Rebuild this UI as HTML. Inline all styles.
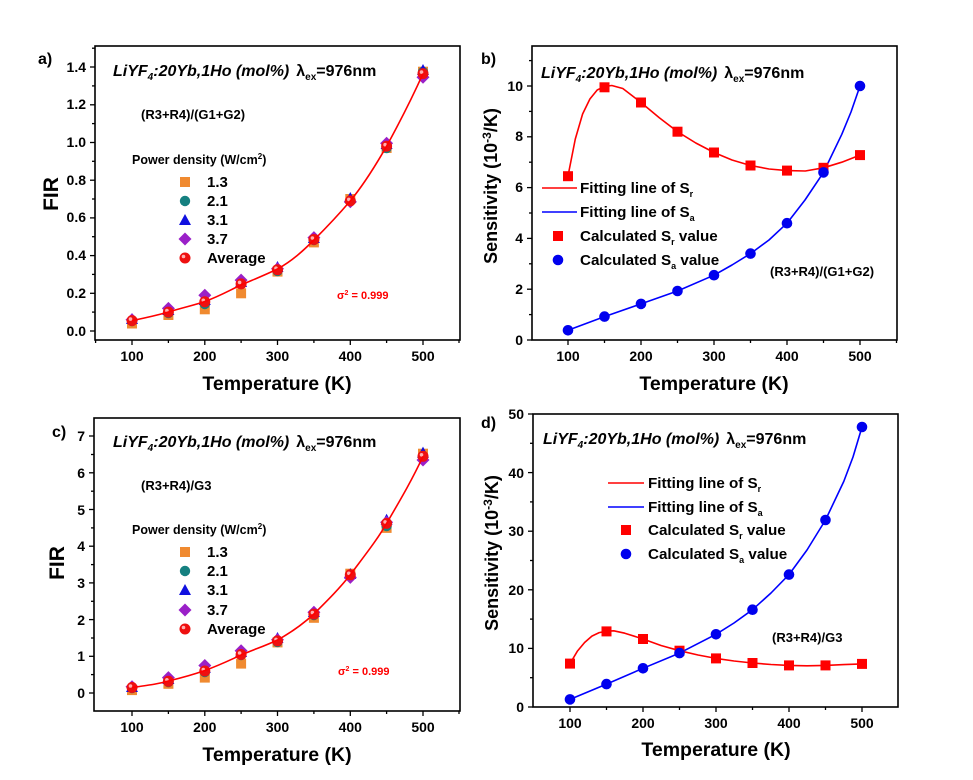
<!DOCTYPE html>
<html><head><meta charset="utf-8"><style>body{margin:0;background:#fff}svg{display:block}text{font-family:"Liberation Sans",sans-serif;font-weight:bold}</style></head><body>
<svg width="973" height="780" viewBox="0 0 973 780" xmlns="http://www.w3.org/2000/svg">
<defs>
<rect id="sq" x="-5" y="-5" width="10" height="10" fill="#f08a30"/>
<circle id="ci" r="5.2" fill="#158080"/>
<path id="tr" d="M0,-6 L6,5 L-6,5Z" fill="#1010e0"/>
<path id="di" d="M0,-6.5 L6.5,0 L0,6.5 L-6.5,0Z" fill="#9a20c8"/>
<g id="av"><circle r="5.5" fill="#ee1010"/><circle cx="-1.5" cy="-1.5" r="1.8" fill="#ffb0b0"/></g>
<rect id="rs" x="-5" y="-5" width="10" height="10" fill="#f00"/>
<circle id="bc" r="5.3" fill="#0000ee"/>
</defs>

<!-- ===== Panel a ===== -->
<g>
<rect x="95" y="46" width="365" height="294" fill="none" stroke="#000" stroke-width="1.6"/>
<g stroke="#000" stroke-width="1.3">
<line x1="90" y1="331" x2="95" y2="331"/><line x1="90" y1="293.3" x2="95" y2="293.3"/><line x1="90" y1="255.6" x2="95" y2="255.6"/><line x1="90" y1="217.9" x2="95" y2="217.9"/><line x1="90" y1="180.2" x2="95" y2="180.2"/><line x1="90" y1="142.5" x2="95" y2="142.5"/><line x1="90" y1="104.8" x2="95" y2="104.8"/><line x1="90" y1="67" x2="95" y2="67"/>
<line x1="92" y1="312.1" x2="95" y2="312.1"/><line x1="92" y1="274.4" x2="95" y2="274.4"/><line x1="92" y1="236.7" x2="95" y2="236.7"/><line x1="92" y1="199" x2="95" y2="199"/><line x1="92" y1="161.3" x2="95" y2="161.3"/><line x1="92" y1="123.6" x2="95" y2="123.6"/><line x1="92" y1="85.9" x2="95" y2="85.9"/><line x1="92" y1="48.2" x2="95" y2="48.2"/>
<line x1="132" y1="340" x2="132" y2="345"/><line x1="204.8" y1="340" x2="204.8" y2="345"/><line x1="277.5" y1="340" x2="277.5" y2="345"/><line x1="350.3" y1="340" x2="350.3" y2="345"/><line x1="423" y1="340" x2="423" y2="345"/>
<line x1="168.4" y1="340" x2="168.4" y2="343"/><line x1="241.1" y1="340" x2="241.1" y2="343"/><line x1="313.9" y1="340" x2="313.9" y2="343"/><line x1="386.6" y1="340" x2="386.6" y2="343"/><line x1="459" y1="340" x2="459" y2="343"/><line x1="95.6" y1="340" x2="95.6" y2="343"/>
</g>
<g font-size="14" text-anchor="end">
<text x="86" y="336">0.0</text><text x="86" y="298">0.2</text><text x="86" y="260">0.4</text><text x="86" y="222">0.6</text><text x="86" y="185">0.8</text><text x="86" y="147">1.0</text><text x="86" y="109">1.2</text><text x="86" y="72">1.4</text>
</g>
<g font-size="14" text-anchor="middle">
<text x="132" y="361">100</text><text x="204.8" y="361">200</text><text x="277.5" y="361">300</text><text x="350.3" y="361">400</text><text x="423" y="361">500</text>
</g>
<text x="277" y="390" font-size="19.5" text-anchor="middle">Temperature (K)</text>
<text transform="translate(58,194) rotate(-90)" font-size="21" text-anchor="middle">FIR</text>
<text x="38" y="64" font-size="16">a)</text>
<text x="113" y="76" font-size="16" font-style="italic">LiYF<tspan font-size="10" dy="4">4</tspan><tspan dy="-4">:20Yb,1Ho (mol%)</tspan><tspan font-style="normal" dx="7">λ</tspan><tspan font-style="normal" font-size="10" dy="4">ex</tspan><tspan font-style="normal" dy="-4">=976nm</tspan></text>
<text x="141" y="119" font-size="13">(R3+R4)/(G1+G2)</text>
<text x="132" y="164" font-size="12.5">Power density (W/cm<tspan font-size="8" dy="-5">2</tspan><tspan dy="5">)</tspan></text>
<use href="#sq" x="185" y="182"/><use href="#ci" x="185" y="201"/><use href="#tr" x="185" y="220"/><use href="#di" x="185" y="239"/><use href="#av" x="185" y="258"/>
<g font-size="15"><text x="207" y="187">1.3</text><text x="207" y="206">2.1</text><text x="207" y="225">3.1</text><text x="207" y="244">3.7</text><text x="207" y="263">Average</text></g>
<text x="337" y="299" font-size="11" fill="#f00">σ<tspan font-size="7" dy="-4">2</tspan><tspan dy="4"> = 0.999</tspan></text>
<g>
<use href="#sq" x="132" y="323.5"/><use href="#sq" x="168.4" y="315"/><use href="#sq" x="204.8" y="309.3"/><use href="#sq" x="241.1" y="293.3"/><use href="#sq" x="277.5" y="271.6"/><use href="#sq" x="313.9" y="242.4"/><use href="#sq" x="350.3" y="199"/><use href="#sq" x="386.6" y="148"/><use href="#sq" x="423" y="71.7"/>
<use href="#ci" x="132" y="321"/><use href="#ci" x="168.4" y="313"/><use href="#ci" x="204.8" y="304"/><use href="#ci" x="241.1" y="284"/><use href="#ci" x="277.5" y="271"/><use href="#ci" x="313.9" y="240"/><use href="#ci" x="350.3" y="201"/><use href="#ci" x="386.6" y="148"/><use href="#ci" x="423" y="72"/>
<use href="#tr" x="132" y="319"/><use href="#tr" x="168.4" y="310"/><use href="#tr" x="204.8" y="300"/><use href="#tr" x="241.1" y="282"/><use href="#tr" x="277.5" y="267"/><use href="#tr" x="313.9" y="238"/><use href="#tr" x="350.3" y="198"/><use href="#tr" x="386.6" y="144"/><use href="#tr" x="423" y="70"/>
<use href="#di" x="132" y="319.7"/><use href="#di" x="168.4" y="308.4"/><use href="#di" x="204.8" y="295.2"/><use href="#di" x="241.1" y="280.1"/><use href="#di" x="277.5" y="268.8"/><use href="#di" x="313.9" y="237.6"/><use href="#di" x="350.3" y="201.8"/><use href="#di" x="386.6" y="143.3"/><use href="#di" x="423" y="77.3"/>
<use href="#av" x="132" y="320.6"/><use href="#av" x="168.4" y="312.1"/><use href="#av" x="204.8" y="301.8"/><use href="#av" x="241.1" y="283.9"/><use href="#av" x="277.5" y="269.7"/><use href="#av" x="313.9" y="239.5"/><use href="#av" x="350.3" y="200.9"/><use href="#av" x="386.6" y="146.2"/><use href="#av" x="423" y="73.6"/>
</g>
<path d="M132,320.6 C150,317 158,315 168.4,312 C185,307 195,305 204.8,301.5 C220,296 230,290 241.1,285 C255,279 265,275 277.5,269 C292,261 303,251 313.9,240 C328,226 340,213 350.3,200.9 C365,183 377,163 386.6,146.2 C402,118 413,96 423,73.6" fill="none" stroke="#f00" stroke-width="1.6"/>
</g>

<!-- ===== Panel b ===== -->
<g>
<rect x="532" y="46" width="365" height="294" fill="none" stroke="#000" stroke-width="1.6"/>
<g stroke="#000" stroke-width="1.3">
<line x1="527" y1="340" x2="532" y2="340"/><line x1="527" y1="289.2" x2="532" y2="289.2"/><line x1="527" y1="238.4" x2="532" y2="238.4"/><line x1="527" y1="187.6" x2="532" y2="187.6"/><line x1="527" y1="136.8" x2="532" y2="136.8"/><line x1="527" y1="86" x2="532" y2="86"/>
<line x1="529" y1="314.6" x2="532" y2="314.6"/><line x1="529" y1="263.8" x2="532" y2="263.8"/><line x1="529" y1="213" x2="532" y2="213"/><line x1="529" y1="162.2" x2="532" y2="162.2"/><line x1="529" y1="111.4" x2="532" y2="111.4"/><line x1="529" y1="60.6" x2="532" y2="60.6"/>
<line x1="568" y1="340" x2="568" y2="345"/><line x1="641" y1="340" x2="641" y2="345"/><line x1="714" y1="340" x2="714" y2="345"/><line x1="787" y1="340" x2="787" y2="345"/><line x1="860" y1="340" x2="860" y2="345"/>
<line x1="604.5" y1="340" x2="604.5" y2="343"/><line x1="677.5" y1="340" x2="677.5" y2="343"/><line x1="750.5" y1="340" x2="750.5" y2="343"/><line x1="823.5" y1="340" x2="823.5" y2="343"/><line x1="896.5" y1="340" x2="896.5" y2="343"/>
</g>
<g font-size="14" text-anchor="end">
<text x="523" y="345">0</text><text x="523" y="294">2</text><text x="523" y="243">4</text><text x="523" y="192">6</text><text x="523" y="141">8</text><text x="523" y="91">10</text>
</g>
<g font-size="14" text-anchor="middle">
<text x="568" y="361">100</text><text x="641" y="361">200</text><text x="714" y="361">300</text><text x="787" y="361">400</text><text x="860" y="361">500</text>
</g>
<text x="714" y="390" font-size="19.5" text-anchor="middle">Temperature (K)</text>
<text transform="translate(497,186) rotate(-90)" font-size="18" text-anchor="middle">Sensitivity (10<tspan font-size="12" dy="-6">-3</tspan><tspan dy="6">/K)</tspan></text>
<text x="481" y="64" font-size="16">b)</text>
<text x="541" y="78" font-size="16" font-style="italic">LiYF<tspan font-size="10" dy="4">4</tspan><tspan dy="-4">:20Yb,1Ho (mol%)</tspan><tspan font-style="normal" dx="7">λ</tspan><tspan font-style="normal" font-size="10" dy="4">ex</tspan><tspan font-style="normal" dy="-4">=976nm</tspan></text>
<text x="770" y="276" font-size="13">(R3+R4)/(G1+G2)</text>
<line x1="542" y1="188" x2="577" y2="188" stroke="#f00" stroke-width="1.6"/>
<line x1="542" y1="212" x2="577" y2="212" stroke="#00f" stroke-width="1.6"/>
<use href="#rs" x="558" y="236"/><use href="#bc" x="558" y="260"/>
<g font-size="15.2">
<text x="580" y="193">Fitting line of S<tspan font-size="9" dy="4">r</tspan></text>
<text x="580" y="217">Fitting line of S<tspan font-size="9" dy="4">a</tspan></text>
<text x="580" y="241">Calculated S<tspan font-size="9" dy="4">r</tspan><tspan dy="-4"> value</tspan></text>
<text x="580" y="265">Calculated S<tspan font-size="9" dy="4">a</tspan><tspan dy="-4"> value</tspan></text>
</g>
<polyline points="568,176 575.3,139 582.6,114 589.9,99 597.2,90 604.5,86.5 611.8,85.5 622.8,88.5 641,102.5 659.3,117.7 677.5,131.7 695.8,143 714,152.5 732,160 750.5,165.5 769,169 787,170.6 805.3,171 823.5,167.8 841.8,162.2 860,155.1" fill="none" stroke="#f00" stroke-width="1.6" stroke-linejoin="round"/>
<polyline points="568,330.3 604.5,316.6 641,303.9 677.5,291 714,275.2 732,265 750.5,253.6 769,240 787,223.2 805,200 823.5,172.4 841.8,134.3 851,112 860,86" fill="none" stroke="#00f" stroke-width="1.6" stroke-linejoin="round"/>
<use href="#rs" x="568" y="176.2"/><use href="#rs" x="604.5" y="87.3"/><use href="#rs" x="641" y="102.5"/><use href="#rs" x="677.5" y="131.7"/><use href="#rs" x="714" y="152.5"/><use href="#rs" x="750.5" y="165.5"/><use href="#rs" x="787" y="170.6"/><use href="#rs" x="823.5" y="167.8"/><use href="#rs" x="860" y="155.1"/>
<use href="#bc" x="568" y="330.3"/><use href="#bc" x="604.5" y="316.6"/><use href="#bc" x="641" y="303.9"/><use href="#bc" x="677.5" y="291"/><use href="#bc" x="714" y="275.2"/><use href="#bc" x="750.5" y="253.6"/><use href="#bc" x="787" y="223.2"/><use href="#bc" x="823.5" y="172.4"/><use href="#bc" x="860" y="86"/>
</g>

<!-- ===== Panel c ===== -->
<g>
<rect x="94" y="418" width="366" height="293" fill="none" stroke="#000" stroke-width="1.6"/>
<g stroke="#000" stroke-width="1.3">
<line x1="89" y1="693" x2="94" y2="693"/><line x1="89" y1="656.3" x2="94" y2="656.3"/><line x1="89" y1="619.6" x2="94" y2="619.6"/><line x1="89" y1="582.9" x2="94" y2="582.9"/><line x1="89" y1="546.2" x2="94" y2="546.2"/><line x1="89" y1="509.5" x2="94" y2="509.5"/><line x1="89" y1="472.8" x2="94" y2="472.8"/><line x1="89" y1="436" x2="94" y2="436"/>
<line x1="91" y1="674.6" x2="94" y2="674.6"/><line x1="91" y1="638" x2="94" y2="638"/><line x1="91" y1="601.3" x2="94" y2="601.3"/><line x1="91" y1="564.6" x2="94" y2="564.6"/><line x1="91" y1="527.9" x2="94" y2="527.9"/><line x1="91" y1="491.2" x2="94" y2="491.2"/><line x1="91" y1="454.5" x2="94" y2="454.5"/>
<line x1="132" y1="711" x2="132" y2="716"/><line x1="204.8" y1="711" x2="204.8" y2="716"/><line x1="277.5" y1="711" x2="277.5" y2="716"/><line x1="350.3" y1="711" x2="350.3" y2="716"/><line x1="423" y1="711" x2="423" y2="716"/>
<line x1="168.4" y1="711" x2="168.4" y2="714"/><line x1="241.1" y1="711" x2="241.1" y2="714"/><line x1="313.9" y1="711" x2="313.9" y2="714"/><line x1="386.6" y1="711" x2="386.6" y2="714"/><line x1="459" y1="711" x2="459" y2="714"/>
</g>
<g font-size="14" text-anchor="end">
<text x="85" y="698">0</text><text x="85" y="661">1</text><text x="85" y="625">2</text><text x="85" y="588">3</text><text x="85" y="551">4</text><text x="85" y="515">5</text><text x="85" y="478">6</text><text x="85" y="441">7</text>
</g>
<g font-size="14" text-anchor="middle">
<text x="132" y="732">100</text><text x="204.8" y="732">200</text><text x="277.5" y="732">300</text><text x="350.3" y="732">400</text><text x="423" y="732">500</text>
</g>
<text x="277" y="761" font-size="19.5" text-anchor="middle">Temperature (K)</text>
<text transform="translate(64,563) rotate(-90)" font-size="21" text-anchor="middle">FIR</text>
<text x="52" y="437" font-size="16">c)</text>
<text x="113" y="447" font-size="16" font-style="italic">LiYF<tspan font-size="10" dy="4">4</tspan><tspan dy="-4">:20Yb,1Ho (mol%)</tspan><tspan font-style="normal" dx="7">λ</tspan><tspan font-style="normal" font-size="10" dy="4">ex</tspan><tspan font-style="normal" dy="-4">=976nm</tspan></text>
<text x="141" y="490" font-size="13">(R3+R4)/G3</text>
<text x="132" y="534" font-size="12.5">Power density (W/cm<tspan font-size="8" dy="-5">2</tspan><tspan dy="5">)</tspan></text>
<use href="#sq" x="185" y="552"/><use href="#ci" x="185" y="571"/><use href="#tr" x="185" y="590"/><use href="#di" x="185" y="610"/><use href="#av" x="185" y="629"/>
<g font-size="15"><text x="207" y="557">1.3</text><text x="207" y="576">2.1</text><text x="207" y="595">3.1</text><text x="207" y="615">3.7</text><text x="207" y="634">Average</text></g>
<text x="338" y="675" font-size="11" fill="#f00">σ<tspan font-size="7" dy="-4">2</tspan><tspan dy="4"> = 0.999</tspan></text>
<g>
<use href="#sq" x="132" y="690.1"/><use href="#sq" x="168.4" y="683.8"/><use href="#sq" x="204.8" y="677.6"/><use href="#sq" x="241.1" y="663.6"/><use href="#sq" x="277.5" y="642.4"/><use href="#sq" x="313.9" y="617.8"/><use href="#sq" x="350.3" y="573.7"/><use href="#sq" x="386.6" y="527.9"/><use href="#sq" x="423" y="453.7"/>
<use href="#ci" x="132" y="688"/><use href="#ci" x="168.4" y="682"/><use href="#ci" x="204.8" y="672"/><use href="#ci" x="241.1" y="655"/><use href="#ci" x="277.5" y="642"/><use href="#ci" x="313.9" y="615"/><use href="#ci" x="350.3" y="575"/><use href="#ci" x="386.6" y="526"/><use href="#ci" x="423" y="456"/>
<use href="#tr" x="132" y="687"/><use href="#tr" x="168.4" y="679"/><use href="#tr" x="204.8" y="668"/><use href="#tr" x="241.1" y="652"/><use href="#tr" x="277.5" y="638"/><use href="#tr" x="313.9" y="612"/><use href="#tr" x="350.3" y="574"/><use href="#tr" x="386.6" y="519.8"/><use href="#tr" x="423" y="452.6"/>
<use href="#di" x="132" y="686.8"/><use href="#di" x="168.4" y="677.6"/><use href="#di" x="204.8" y="665.5"/><use href="#di" x="241.1" y="650.8"/><use href="#di" x="277.5" y="639.8"/><use href="#di" x="313.9" y="612.3"/><use href="#di" x="350.3" y="577.4"/><use href="#di" x="386.6" y="522.3"/><use href="#di" x="423" y="460"/>
<use href="#av" x="132" y="687.5"/><use href="#av" x="168.4" y="681.3"/><use href="#av" x="204.8" y="671"/><use href="#av" x="241.1" y="654.5"/><use href="#av" x="277.5" y="640.9"/><use href="#av" x="313.9" y="614.1"/><use href="#av" x="350.3" y="574.8"/><use href="#av" x="386.6" y="523.4"/><use href="#av" x="423" y="456.3"/>
</g>
<path d="M132,687.5 C150,685 158,684 168.4,681 C185,677 195,674 204.8,670.5 C220,665 230,660 241.1,655 C255,649 265,646 277.5,640 C292,632 303,624 313.9,614 C328,600 340,588 350.3,574.8 C365,555 377,540 386.6,523.4 C402,497 413,478 423,456.3" fill="none" stroke="#f00" stroke-width="1.6"/>
</g>

<!-- ===== Panel d ===== -->
<g>
<rect x="533" y="414" width="365" height="293" fill="none" stroke="#000" stroke-width="1.6"/>
<g stroke="#000" stroke-width="1.3">
<line x1="528" y1="707" x2="533" y2="707"/><line x1="528" y1="648.4" x2="533" y2="648.4"/><line x1="528" y1="589.8" x2="533" y2="589.8"/><line x1="528" y1="531.2" x2="533" y2="531.2"/><line x1="528" y1="472.6" x2="533" y2="472.6"/><line x1="528" y1="414" x2="533" y2="414"/>
<line x1="530" y1="677.7" x2="533" y2="677.7"/><line x1="530" y1="619.1" x2="533" y2="619.1"/><line x1="530" y1="560.5" x2="533" y2="560.5"/><line x1="530" y1="501.9" x2="533" y2="501.9"/><line x1="530" y1="443.3" x2="533" y2="443.3"/>
<line x1="570" y1="707" x2="570" y2="712"/><line x1="643" y1="707" x2="643" y2="712"/><line x1="716" y1="707" x2="716" y2="712"/><line x1="789" y1="707" x2="789" y2="712"/><line x1="862" y1="707" x2="862" y2="712"/>
<line x1="606.5" y1="707" x2="606.5" y2="710"/><line x1="679.5" y1="707" x2="679.5" y2="710"/><line x1="752.5" y1="707" x2="752.5" y2="710"/><line x1="825.5" y1="707" x2="825.5" y2="710"/>
</g>
<g font-size="14" text-anchor="end">
<text x="524" y="712">0</text><text x="524" y="653">10</text><text x="524" y="595">20</text><text x="524" y="536">30</text><text x="524" y="478">40</text><text x="524" y="419">50</text>
</g>
<g font-size="14" text-anchor="middle">
<text x="570" y="728">100</text><text x="643" y="728">200</text><text x="716" y="728">300</text><text x="789" y="728">400</text><text x="862" y="728">500</text>
</g>
<text x="716" y="756" font-size="19.5" text-anchor="middle">Temperature (K)</text>
<text transform="translate(498,553) rotate(-90)" font-size="18" text-anchor="middle">Sensitivity (10<tspan font-size="12" dy="-6">-3</tspan><tspan dy="6">/K)</tspan></text>
<text x="481" y="428" font-size="16">d)</text>
<text x="543" y="444" font-size="16" font-style="italic">LiYF<tspan font-size="10" dy="4">4</tspan><tspan dy="-4">:20Yb,1Ho (mol%)</tspan><tspan font-style="normal" dx="7">λ</tspan><tspan font-style="normal" font-size="10" dy="4">ex</tspan><tspan font-style="normal" dy="-4">=976nm</tspan></text>
<text x="772" y="642" font-size="13">(R3+R4)/G3</text>
<line x1="608" y1="483" x2="644" y2="483" stroke="#f00" stroke-width="1.6"/>
<line x1="608" y1="507" x2="644" y2="507" stroke="#00f" stroke-width="1.6"/>
<use href="#rs" x="626" y="530"/><use href="#bc" x="626" y="554"/>
<g font-size="15.2">
<text x="648" y="488">Fitting line of S<tspan font-size="9" dy="4">r</tspan></text>
<text x="648" y="512">Fitting line of S<tspan font-size="9" dy="4">a</tspan></text>
<text x="648" y="535">Calculated S<tspan font-size="9" dy="4">r</tspan><tspan dy="-4"> value</tspan></text>
<text x="648" y="559">Calculated S<tspan font-size="9" dy="4">a</tspan><tspan dy="-4"> value</tspan></text>
</g>
<polyline points="570,663.6 577.3,651.3 584.6,642.5 591.9,636.1 599.2,632.6 606.5,631.2 613.8,630.8 624.8,633.2 643,639 661,645.5 679.5,650.7 698,655 716,658.4 734,661 752.5,663 771,664.5 789,665.4 807,665.8 825.5,665.4 844,664.6 862,663.9" fill="none" stroke="#f00" stroke-width="1.6" stroke-linejoin="round"/>
<polyline points="570,699.4 606.5,684.1 643,668.3 679.5,653.1 716,634.3 734,623 752.5,609.7 771,593 789,574.6 807,550 825.5,520 843.8,481.4 853,457 862,427" fill="none" stroke="#00f" stroke-width="1.6" stroke-linejoin="round"/>
<use href="#rs" x="570" y="663.6"/><use href="#rs" x="606.5" y="631.4"/><use href="#rs" x="643" y="639"/><use href="#rs" x="679.5" y="650.7"/><use href="#rs" x="716" y="658.4"/><use href="#rs" x="752.5" y="663"/><use href="#rs" x="789" y="665.4"/><use href="#rs" x="825.5" y="665.4"/><use href="#rs" x="862" y="663.9"/>
<use href="#bc" x="570" y="699.4"/><use href="#bc" x="606.5" y="684.1"/><use href="#bc" x="643" y="668.3"/><use href="#bc" x="679.5" y="653.1"/><use href="#bc" x="716" y="634.3"/><use href="#bc" x="752.5" y="609.7"/><use href="#bc" x="789" y="574.6"/><use href="#bc" x="825.5" y="520"/><use href="#bc" x="862" y="427"/>
</g>
</svg>
</body></html>
